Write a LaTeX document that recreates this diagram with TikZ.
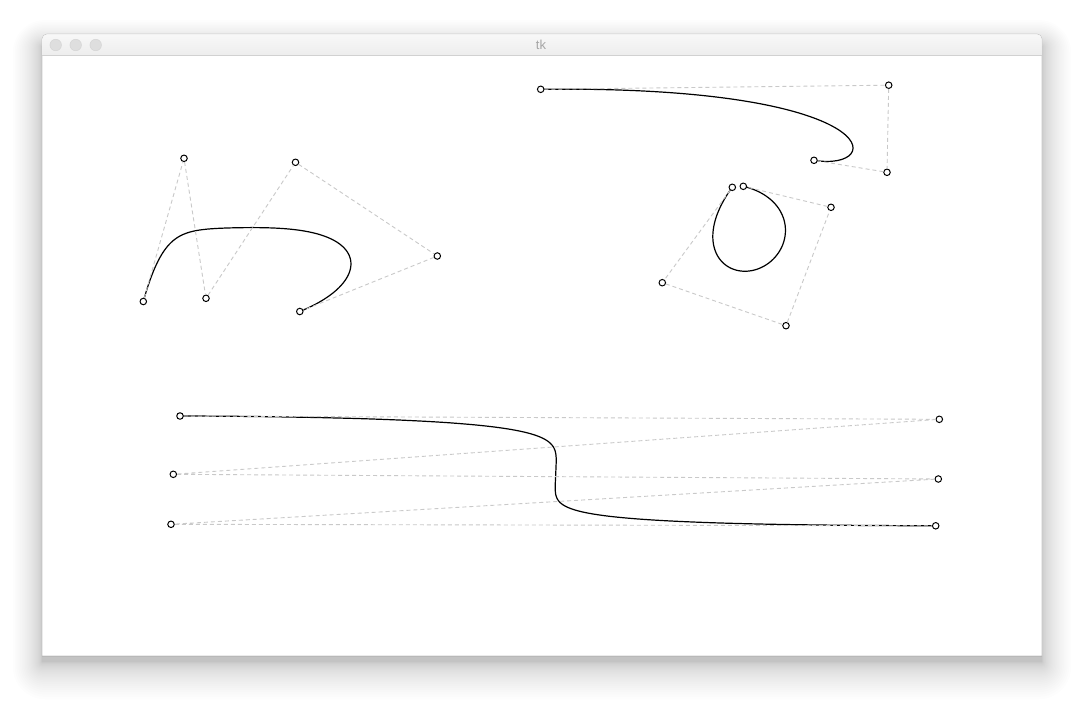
\documentclass[tikz,border=0pt]{standalone}
\usepackage{fontspec}
\setmainfont{Liberation Sans}
\pgfdeclarelayer{back}
\pgfdeclarelayer{bg}
\pgfsetlayers{back,bg,main}
\begin{document}
\begin{tikzpicture}[x=1pt,y=-1pt,
  cp/.style={circle, draw=black, fill=white, line width=1pt, inner sep=0pt, minimum size=6.5pt},
  ctrl/.style={draw=black!21, dash pattern=on 4pt off 3pt, line width=0.9pt},
  curve/.style={draw=black, line width=1.2pt, line join=round},
  light/.style={circle, fill=black!13, draw=black!17, line width=0.5pt, inner sep=0pt, minimum size=11.5pt},
  declare function={
    bzq(\pt,\pa,\pb,\pc,\pd,\pe)=(1-\pt)*(1-\pt)*(1-\pt)*(1-\pt)*\pa
      +4*\pt*(1-\pt)*(1-\pt)*(1-\pt)*\pb
      +6*\pt*\pt*(1-\pt)*(1-\pt)*\pc
      +4*\pt*\pt*\pt*(1-\pt)*\pd
      +\pt*\pt*\pt*\pt*\pe;
    bzv(\pt,\pa,\pb,\pc,\pd,\pe,\pf)=(1-\pt)*(1-\pt)*(1-\pt)*(1-\pt)*(1-\pt)*\pa
      +5*\pt*(1-\pt)*(1-\pt)*(1-\pt)*(1-\pt)*\pb
      +10*\pt*\pt*(1-\pt)*(1-\pt)*(1-\pt)*\pc
      +10*\pt*\pt*\pt*(1-\pt)*(1-\pt)*\pd
      +5*\pt*\pt*\pt*\pt*(1-\pt)*\pe
      +\pt*\pt*\pt*\pt*\pt*\pf;
  }]
\useasboundingbox (0,0) rectangle (1084,706);

% window with shadow
\begin{pgfonlayer}{back}
\fill[white] (0,0) rectangle (1084,706);
\foreach \i in {1,...,30} {
  \pgfmathsetmacro{\s}{0.036*\i*\i}
  \fill[black, opacity=0.0065, rounded corners=\s pt]
    (42-0.9*\s, 46-0.8*\s) rectangle (1042+0.9*\s, 662+1.15*\s);
}
\fill[white, draw=black!22, line width=0.6pt]
  (42,656) [rounded corners=5pt] -- (42,34) -- (1042,34) [sharp corners] -- (1042,656) -- cycle;
\shade[top color=black!3, bottom color=black!7, rounded corners=5pt]
  (42.3,55) [rounded corners=5pt] -- (42.3,34.3) -- (1041.7,34.3) [sharp corners] -- (1041.7,55) -- cycle;
\draw[black!18, line width=0.8pt] (42.3,55.2) -- (1041.7,55.2);
\draw[black!28, line width=0.8pt] (42,656) -- (1042,656);
\end{pgfonlayer}
\node[light] (l1) at (55.7,45) {};
\node[light] (l2) at (75.7,45) {};
\node[light] (l3) at (95.7,45) {};
\node[text=black!35, font=\fontsize{13}{13}\selectfont, inner sep=0pt] (title) at (541,45) {tk};

% control points
\node[cp] (a0) at (143.3,301.5) {};
\node[cp] (a1) at (184,158.3) {};
\node[cp] (a2) at (206,298.3) {};
\node[cp] (a3) at (295.5,162.3) {};
\node[cp] (a4) at (437.3,256) {};
\node[cp] (a5) at (299.8,311.5) {};

\node[cp] (b0) at (540.7,89.3) {};
\node[cp] (b1) at (888.7,85.2) {};
\node[cp] (b2) at (887,172.3) {};
\node[cp] (b3) at (814,160.3) {};

\node[cp] (c0) at (180,416) {};
\node[cp] (c1) at (939.3,419.3) {};
\node[cp] (c2) at (173.3,474.3) {};
\node[cp] (c3) at (938.3,479) {};
\node[cp] (c4) at (171,524.3) {};
\node[cp] (c5) at (935.7,525.8) {};

\node[cp] (d0) at (732.3,187.3) {};
\node[cp] (d1) at (662.3,282.7) {};
\node[cp] (d2) at (786,325.7) {};
\node[cp] (d3) at (831,207.3) {};
\node[cp] (d4) at (743.3,186.3) {};

% curves
\begin{pgfonlayer}{bg}
\draw[curve] plot[variable=\t, domain=0:1, samples=160]
  ({bzv(\t,143.3,184,206,295.5,437.3,299.8)},{bzv(\t,301.5,158.3,298.3,162.3,256,311.5)});
\draw[curve] (b0.center) .. controls (b1.center) and (b2.center) .. (b3.center);
\draw[curve] plot[variable=\t, domain=0:1, samples=200]
  ({bzv(\t,180,939.3,173.3,938.3,171,935.7)},{bzv(\t,416,419.3,474.3,479,524.3,525.8)});
\draw[curve] plot[variable=\t, domain=0:1, samples=160]
  ({bzq(\t,732.3,662.3,786,831,743.3)},{bzq(\t,187.3,282.7,325.7,207.3,186.3)});
\end{pgfonlayer}

% control polygons
\draw[ctrl] (a0) -- (a1) -- (a2) -- (a3) -- (a4) -- (a5);
\draw[ctrl] (b0) -- (b1) -- (b2) -- (b3);
\draw[ctrl] (c0) -- (c1) -- (c2) -- (c3) -- (c4) -- (c5);
\draw[ctrl] (d0) -- (d1) -- (d2) -- (d3) -- (d4);
\end{tikzpicture}
\end{document}
